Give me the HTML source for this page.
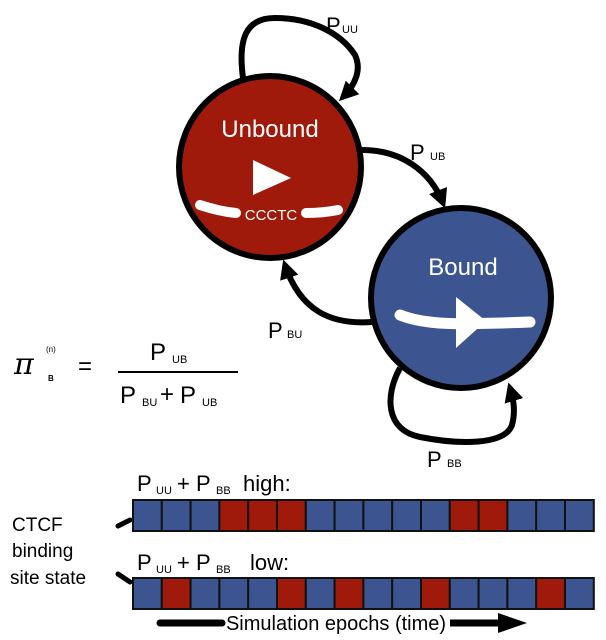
<!DOCTYPE html>
<html><head><style>
html,body{margin:0;padding:0;background:#fff;}
svg{display:block;font-family:"Liberation Sans","DejaVu Sans",sans-serif;}
</style></head><body>
<svg width="606" height="640" viewBox="0 0 606 640" xmlns="http://www.w3.org/2000/svg">
<defs>
<marker id="ah" viewBox="0 0 10 10" refX="7" refY="5" markerWidth="3.2" markerHeight="3.2" orient="auto"><path d="M0,0 L10,5 L0,10 z" fill="#000"/></marker>
</defs>
<!-- Unbound self loop -->
<path d="M243,78 C238,40 245,18 275,18 C310,18 340,32 355,55 C362,70 355,85 343,97" fill="none" stroke="#000" stroke-width="6" marker-end="url(#ah)"/>
<!-- UB -->
<path d="M362,150 C400,150 430,170 443,203" fill="none" stroke="#000" stroke-width="6" marker-end="url(#ah)"/>
<!-- BU -->
<path d="M372,322 C330,325 300,310 285,265" fill="none" stroke="#000" stroke-width="6" marker-end="url(#ah)"/>
<!-- Bound self loop -->
<path d="M400,368 C385,395 385,430 420,437 C460,445 505,445 512,425 C516,410 513,398 510,388" fill="none" stroke="#000" stroke-width="6" marker-end="url(#ah)"/>
<!-- Unbound circle -->
<circle cx="270" cy="167" r="91" fill="#a01a0c" stroke="#000" stroke-width="6"/>
<text x="270" y="137" font-size="24" fill="#fff" text-anchor="middle">Unbound</text>
<path d="M253,160 L291,178 L253,195 z" fill="#fff"/>
<path d="M200,205 C215,210 225,212 236,213" fill="none" stroke="#fff" stroke-width="10" stroke-linecap="round"/>
<path d="M306,213 C318,213 328,212 338,210" fill="none" stroke="#fff" stroke-width="10" stroke-linecap="round"/>
<text x="271" y="220" font-size="15" fill="#fff" text-anchor="middle">CCCTC</text>
<!-- Bound circle -->
<circle cx="461" cy="298" r="90" fill="#3c5590" stroke="#000" stroke-width="6"/>
<text x="463" y="275" font-size="24" fill="#fff" text-anchor="middle">Bound</text>
<path d="M400,315 C425,325 455,325 530,322" fill="none" stroke="#fff" stroke-width="11" stroke-linecap="round"/>
<path d="M456,297 L486,321 L456,348 z" fill="#fff"/>
<!-- labels -->
<g font-size="22" fill="#000">
<text x="326" y="33">P</text><text x="342" y="33" font-size="11">UU</text>
<text x="410" y="160">P</text><text x="430" y="160" font-size="11">UB</text>
<text x="268" y="338">P</text><text x="287" y="338" font-size="11">BU</text>
<text x="427" y="467">P</text><text x="447" y="467" font-size="11">BB</text>
</g>
<!-- formula -->
<text x="14" y="374" font-size="30" font-style="italic" font-family="DejaVu Serif,serif">π</text>
<text x="46" y="352" font-size="8">(n)</text>
<text x="48" y="381" font-size="8" font-weight="bold">B</text>
<text x="78" y="374" font-size="24">=</text>
<text x="150" y="360" font-size="24">P</text><text x="172" y="363" font-size="11">UB</text>
<line x1="118" y1="372" x2="238" y2="372" stroke="#000" stroke-width="2"/>
<text x="120" y="403" font-size="24">P</text><text x="142" y="406" font-size="11">BU</text>
<text x="160" y="402" font-size="24">+</text>
<text x="180" y="403" font-size="24">P</text><text x="202" y="406" font-size="11">UB</text>
<!-- rows -->
<g font-size="22">
<text x="137" y="491">P</text><text x="156" y="494" font-size="11">UU</text>
<text x="177" y="491">+</text><text x="196" y="491">P</text><text x="216" y="494" font-size="11">BB</text>
<text x="243" y="491">high:</text>
<text x="137" y="570">P</text><text x="156" y="573" font-size="11">UU</text>
<text x="177" y="570">+</text><text x="196" y="570">P</text><text x="216" y="573" font-size="11">BB</text>
<text x="250" y="570">low:</text>
</g>
<g font-size="19">
<text x="12" y="531">CTCF</text>
<text x="12" y="557">binding</text>
<text x="10" y="584">site state</text>
</g>
<path d="M118,526 L130,520" stroke="#000" stroke-width="5" stroke-linecap="round"/>
<path d="M118,574 L130,582" stroke="#000" stroke-width="5" stroke-linecap="round"/>
<g stroke="#111" stroke-width="2">
<rect x="133" y="500" width="28.8" height="31" fill="#3c5590"/>
<rect x="161.8" y="500" width="28.8" height="31" fill="#3c5590"/>
<rect x="190.6" y="500" width="28.8" height="31" fill="#3c5590"/>
<rect x="219.4" y="500" width="28.8" height="31" fill="#a01a0c"/>
<rect x="248.2" y="500" width="28.8" height="31" fill="#a01a0c"/>
<rect x="277" y="500" width="28.8" height="31" fill="#a01a0c"/>
<rect x="305.8" y="500" width="28.8" height="31" fill="#3c5590"/>
<rect x="334.6" y="500" width="28.8" height="31" fill="#3c5590"/>
<rect x="363.4" y="500" width="28.8" height="31" fill="#3c5590"/>
<rect x="392.2" y="500" width="28.8" height="31" fill="#3c5590"/>
<rect x="421" y="500" width="28.8" height="31" fill="#3c5590"/>
<rect x="449.8" y="500" width="28.8" height="31" fill="#a01a0c"/>
<rect x="478.6" y="500" width="28.8" height="31" fill="#a01a0c"/>
<rect x="507.4" y="500" width="28.8" height="31" fill="#3c5590"/>
<rect x="536.2" y="500" width="28.8" height="31" fill="#3c5590"/>
<rect x="565" y="500" width="28.8" height="31" fill="#3c5590"/>

<rect x="133" y="578" width="28.8" height="31" fill="#3c5590"/>
<rect x="161.8" y="578" width="28.8" height="31" fill="#a01a0c"/>
<rect x="190.6" y="578" width="28.8" height="31" fill="#3c5590"/>
<rect x="219.4" y="578" width="28.8" height="31" fill="#3c5590"/>
<rect x="248.2" y="578" width="28.8" height="31" fill="#3c5590"/>
<rect x="277" y="578" width="28.8" height="31" fill="#a01a0c"/>
<rect x="305.8" y="578" width="28.8" height="31" fill="#3c5590"/>
<rect x="334.6" y="578" width="28.8" height="31" fill="#a01a0c"/>
<rect x="363.4" y="578" width="28.8" height="31" fill="#3c5590"/>
<rect x="392.2" y="578" width="28.8" height="31" fill="#3c5590"/>
<rect x="421" y="578" width="28.8" height="31" fill="#a01a0c"/>
<rect x="449.8" y="578" width="28.8" height="31" fill="#3c5590"/>
<rect x="478.6" y="578" width="28.8" height="31" fill="#3c5590"/>
<rect x="507.4" y="578" width="28.8" height="31" fill="#3c5590"/>
<rect x="536.2" y="578" width="28.8" height="31" fill="#a01a0c"/>
<rect x="565" y="578" width="28.8" height="31" fill="#3c5590"/>
</g>
<!-- time arrow -->
<path d="M160,623 L222,623" stroke="#000" stroke-width="7" stroke-linecap="round"/>
<path d="M450,623 L500,623" stroke="#000" stroke-width="7"/>
<path d="M498,613 L527,623 L498,633 z" fill="#000"/>
<text x="336" y="630" font-size="20" text-anchor="middle">Simulation epochs (time)</text>
</svg>
</body></html>
